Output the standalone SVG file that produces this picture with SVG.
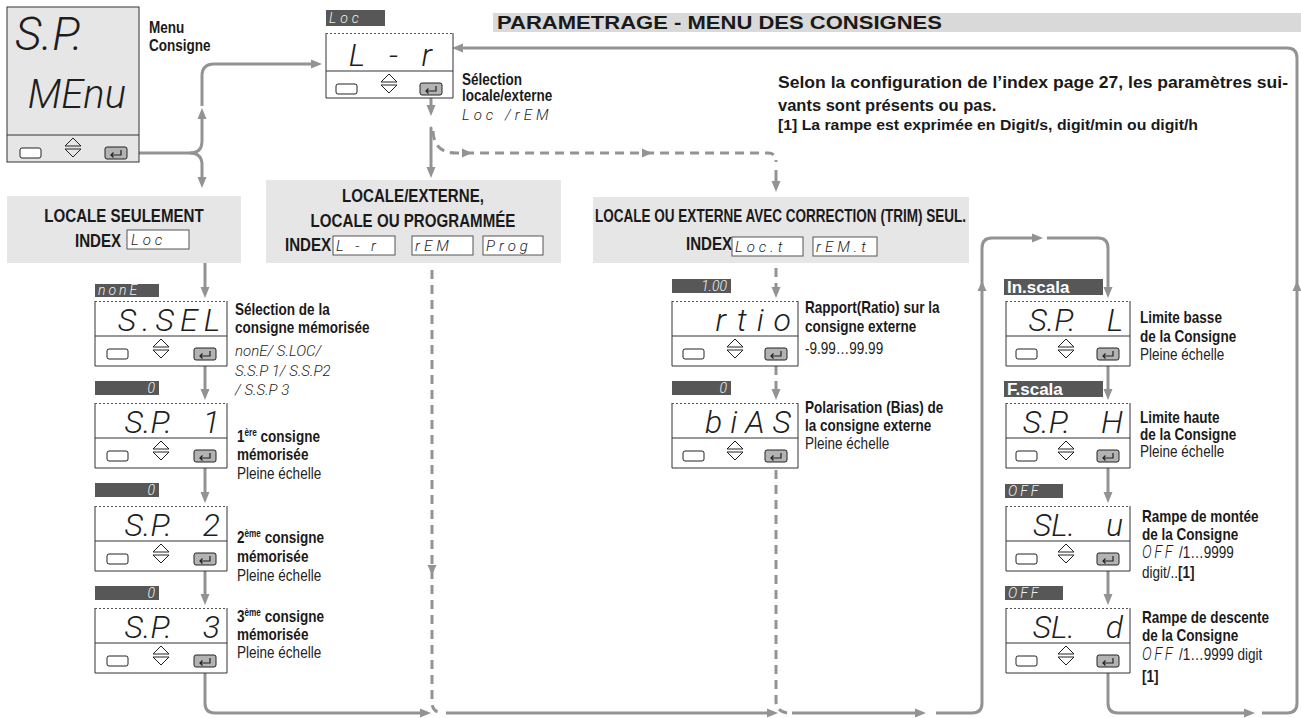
<svg xmlns="http://www.w3.org/2000/svg" width="1301" height="718" viewBox="0 0 1301 718">
<defs>
<style>
.lb{font-family:"Liberation Sans",Arial,sans-serif;font-weight:bold;font-size:16.5px;fill:#1a1a1a}
.lr{font-family:"Liberation Sans",Arial,sans-serif;font-weight:normal;font-size:16.5px;fill:#222}
.hb{font-family:"Liberation Sans",Arial,sans-serif;font-weight:bold;font-size:18px;fill:#1a1a1a}
.ab{font-family:"Liberation Sans",Arial,sans-serif;font-weight:bold;fill:#1a1a1a}
.seg{font-family:Roboto,Lato,Inter,"DejaVu Sans",sans-serif;font-weight:300;font-style:italic;fill:#1e1e1e;white-space:pre}
.bseg{font-family:Roboto,Lato,Inter,"DejaVu Sans",sans-serif;font-weight:300;font-style:italic;fill:#f2f2f2;font-size:14px;white-space:pre}
.badge{fill:#575757}
.pan{fill:#fff}
.edge{fill:none;stroke:#333;stroke-width:1}
.dot{stroke:#555;stroke-width:1;stroke-dasharray:2 2}
.ibox{fill:#fff;stroke:#555;stroke-width:1}
.gbox{fill:#e6e6e6}
.con{fill:none;stroke:#939393;stroke-width:3}
.dash{fill:none;stroke:#939393;stroke-width:3;stroke-dasharray:9 6}
</style>
<marker id="arr" markerUnits="userSpaceOnUse" markerWidth="11" markerHeight="10" refX="1" refY="5" orient="auto" viewBox="0 0 11 10"><path d="M0,0.5 L11,5 L0,9.5 Z" fill="#939393"/></marker>
<path id="ah" d="M-10,-4.5 L0,0 L-10,4.5 Z" fill="#939393"/>
<g id="kl"><rect x="0" y="0" width="21" height="10" rx="2" fill="#fff" stroke="#222" stroke-width="1"/></g>
<g id="kt" fill="none" stroke="#222" stroke-width="1"><path d="M-8,11 L0,3 L8,11 Z"/><path d="M-8,14 L0,22 L8,14 Z"/></g>
<g id="ke"><rect x="0" y="0" width="22" height="12" rx="2" fill="#b3b3b3" stroke="#222" stroke-width="1"/><path d="M16,3 V8 H6 M8.5,5.5 L6,8 L8.5,10.5" fill="none" stroke="#222" stroke-width="1.2"/></g>
</defs>

<rect width="1301" height="718" fill="#fff"/>

<g id="header">
<rect x="493" y="13" width="808" height="19" fill="#d9d9d9"/>
<text class="ab" x="497" y="29" font-size="19" textLength="445" lengthAdjust="spacingAndGlyphs">PARAMETRAGE - MENU DES CONSIGNES</text>
</g>

<g id="note">
<text class="ab" x="778" y="88" font-size="16.5" textLength="510" lengthAdjust="spacingAndGlyphs">Selon la configuration de l’index page 27, les paramètres sui-</text>
<text class="ab" x="778" y="111" font-size="16.5">vants sont présents ou pas.</text>
<text class="ab" x="778" y="130" font-size="14" textLength="420" lengthAdjust="spacingAndGlyphs">[1] La rampe est exprimée en Digit/s, digit/min ou digit/h</text>
</g>

<g id="connectors">
<path class="con" d="M128,153 H190 Q202,153 202,141 V118" marker-end="url(#arr)"/>
<path class="con" d="M202,106 V76 Q202,64 214,64 H312" marker-end="url(#arr)"/>
<path class="con" d="M190,153 Q202,153 202,165 V178" marker-end="url(#arr)"/>
<path class="con" d="M431,98 V106" marker-end="url(#arr)"/>
<path class="con" d="M431,128 V168" stroke-linecap="round" marker-end="url(#arr)"/>
<path class="dash" d="M433,131 Q434,153 456,153 H768 Q776,153 776,162"/>
<use href="#ah" transform="translate(472,153)"/>
<use href="#ah" transform="translate(652,153)"/>
<path class="con" d="M776,170 V182" marker-end="url(#arr)"/>
<path class="con" d="M205,263 V288" marker-end="url(#arr)"/>
<path class="con" d="M205,366 V390" marker-end="url(#arr)"/>
<path class="con" d="M205,468 V493" marker-end="url(#arr)"/>
<path class="con" d="M205,571 V595" marker-end="url(#arr)"/>
<path class="con" d="M205,673 V703 Q205,713 215,713 H421" marker-end="url(#arr)"/>
<path class="dash" d="M432,270 V702 Q432,712 442,713"/>
<use href="#ah" transform="translate(432,575) rotate(90)"/>
<path class="con" d="M446,713 H768" marker-end="url(#arr)"/>
<path class="dash" d="M776,268 V288" marker-end="url(#arr)"/>
<path class="dash" d="M776,366 V390" marker-end="url(#arr)"/>
<path class="dash" d="M776,470 V702 Q777,712 788,713"/>
<path class="con" d="M792,713 H916" marker-end="url(#arr)"/>
<path class="con" d="M936,713 H972 Q982,713 982,703 V248 Q982,238 992,238 H1033" marker-end="url(#arr)"/>
<use href="#ah" transform="translate(982,281) rotate(-90)"/>
<path class="con" d="M1047,238 H1098 Q1108,238 1108,248 V288" marker-end="url(#arr)"/>
<path class="con" d="M1108,366 V390" marker-end="url(#arr)"/>
<path class="con" d="M1108,468 V493" marker-end="url(#arr)"/>
<path class="con" d="M1108,571 V595" marker-end="url(#arr)"/>
<path class="con" d="M1108,673 V703 Q1108,713 1118,713 H1245" marker-end="url(#arr)"/>
<path class="con" d="M1262,713 H1287 Q1297,713 1297,703 V58 Q1297,48 1287,48 H462" marker-end="url(#arr)"/>
<use href="#ah" transform="translate(1297,281) rotate(-90)"/>
</g>

<g id="menu">
<rect class="gbox" x="7" y="7" width="132" height="155"/>
<rect class="edge" x="7" y="7" width="132" height="155"/>
<line x1="7" y1="135" x2="139" y2="135" stroke="#333"/>
<text class="seg" x="15" y="50" font-size="46">S.P.</text>
<text class="seg" x="126" y="108" font-size="40" text-anchor="end">MEnu</text>
<use href="#kl" x="20" y="148"/><use href="#kt" x="73" y="135"/><use href="#ke" x="105" y="147"/>
<text class="lb" x="149" y="33" font-size="18" transform="matrix(.82 0 0 1 26.82 0)">Menu</text>
<text class="lb" x="149" y="51" font-size="18" transform="matrix(.82 0 0 1 26.82 0)">Consigne</text>
</g>

<g id="lr">
<rect class="badge" x="326" y="10" width="59" height="16"/>
<text class="bseg" x="329" y="23" letter-spacing="4">Loc</text>
<rect class="pan" x="326" y="33" width="127" height="65"/>
<path class="edge" d="M326,33 V98 H453 V33"/>
<line class="dot" x1="326" y1="33.5" x2="453" y2="33.5"/>
<line x1="326" y1="71" x2="453" y2="71" stroke="#333"/>
<text class="seg" x="440" y="66" font-size="32" text-anchor="end" letter-spacing="8">L - r</text>
<use href="#kl" x="336" y="84"/><use href="#kt" x="389" y="71"/><use href="#ke" x="420" y="83"/>
<text class="lb" x="462" y="85" transform="matrix(.82 0 0 1 83.16 0)">Sélection</text>
<text class="lb" x="462" y="101" transform="matrix(.82 0 0 1 83.16 0)">locale/externe</text>
<text class="seg" x="462" y="120" font-size="15" letter-spacing="4">Loc /rEM</text>
</g>

<g id="locale-seulement">
<rect class="gbox" x="7" y="196" width="234" height="67"/>
<text class="hb" x="124" y="222" text-anchor="middle" transform="matrix(.84 0 0 1 19.84 0)">LOCALE SEULEMENT</text>
<text class="hb" x="75" y="247" transform="matrix(.84 0 0 1 12 0)">INDEX</text>
<rect class="ibox" x="127" y="230" width="62" height="19"/>
<text class="seg" x="131" y="245" font-size="15" letter-spacing="4">Loc</text>
</g>

<g id="locale-externe">
<rect class="gbox" x="266" y="180" width="295" height="83"/>
<text class="hb" x="413" y="202" text-anchor="middle" transform="matrix(.84 0 0 1 66.08 0)">LOCALE/EXTERNE,</text>
<text class="hb" x="413" y="227" text-anchor="middle" transform="matrix(.84 0 0 1 66.08 0)">LOCALE OU PROGRAMMÉE</text>
<text class="hb" x="285" y="251" transform="matrix(.84 0 0 1 45.6 0)">INDEX</text>
<rect class="ibox" x="333" y="236" width="62" height="19"/>
<text class="seg" x="336" y="251" font-size="15" letter-spacing="4">L - r</text>
<rect class="ibox" x="412" y="236" width="61" height="19"/>
<text class="seg" x="415" y="251" font-size="15" letter-spacing="4">rEM</text>
<rect class="ibox" x="483" y="236" width="60" height="19"/>
<text class="seg" x="486" y="251" font-size="15" letter-spacing="4">Prog</text>
</g>

<g id="locale-trim">
<rect class="gbox" x="593" y="197" width="376" height="66"/>
<text class="hb" x="595" y="222" textLength="371" lengthAdjust="spacingAndGlyphs">LOCALE OU EXTERNE AVEC CORRECTION (TRIM) SEUL.</text>
<text class="hb" x="686" y="250" transform="matrix(.84 0 0 1 109.76 0)">INDEX</text>
<rect class="ibox" x="732" y="237" width="71" height="19"/>
<text class="seg" x="735" y="252" font-size="15" letter-spacing="4">Loc.t</text>
<rect class="ibox" x="813" y="237" width="64" height="19"/>
<text class="seg" x="816" y="252" font-size="15" letter-spacing="4">rEM.t</text>
</g>

<g id="ssel">
<rect class="badge" x="95" y="284" width="64" height="13"/>
<text class="bseg" x="98" y="295" letter-spacing="3">nonE</text>
<rect class="pan" x="95" y="301" width="132" height="65"/>
<path class="edge" d="M95,301 V366 H227 V301"/>
<line class="dot" x1="95" y1="301.5" x2="227" y2="301.5"/>
<line x1="95" y1="336" x2="227" y2="336" stroke="#333"/>
<text class="seg" x="226" y="331" font-size="32" text-anchor="end" letter-spacing="6">S.SEL</text>
<use href="#kl" x="107" y="349"/><use href="#kt" x="161" y="336"/><use href="#ke" x="194" y="348"/>
<text class="lb" x="235" y="315" transform="matrix(.82 0 0 1 42.3 0)">Sélection de la</text>
<text class="lb" x="235" y="333" transform="matrix(.82 0 0 1 42.3 0)">consigne mémorisée</text>
<text class="seg" x="235" y="356" font-size="15">nonE/ S.LOC/</text>
<text class="seg" x="235" y="376" font-size="15">S.S.P 1/ S.S.P2</text>
<text class="seg" x="235" y="395" font-size="15">/ S.S.P 3</text>
</g>

<g id="sp1">
<rect class="badge" x="95" y="381" width="64" height="14"/>
<text class="bseg" x="155" y="393" text-anchor="end">0</text>
<rect class="pan" x="95" y="403" width="132" height="65"/>
<path class="edge" d="M95,403 V468 H227 V403"/>
<line class="dot" x1="95" y1="403.5" x2="227" y2="403.5"/>
<line x1="95" y1="438" x2="227" y2="438" stroke="#333"/>
<text class="seg" x="220" y="433" font-size="32" text-anchor="end">S.P.    1</text>
<use href="#kl" x="107" y="451"/><use href="#kt" x="161" y="438"/><use href="#ke" x="194" y="450"/>
<text class="lb" x="237" y="442" transform="matrix(.82 0 0 1 42.66 0)">1<tspan font-size="10" dy="-6">ère</tspan><tspan dy="6"> consigne</tspan></text>
<text class="lb" x="237" y="460" transform="matrix(.82 0 0 1 42.66 0)">mémorisée</text>
<text class="lr" x="237" y="479" transform="matrix(.82 0 0 1 42.66 0)">Pleine échelle</text>
</g>

<g id="sp2">
<rect class="badge" x="95" y="483" width="64" height="14"/>
<text class="bseg" x="155" y="495" text-anchor="end">0</text>
<rect class="pan" x="95" y="506" width="132" height="65"/>
<path class="edge" d="M95,506 V571 H227 V506"/>
<line class="dot" x1="95" y1="506.5" x2="227" y2="506.5"/>
<line x1="95" y1="541" x2="227" y2="541" stroke="#333"/>
<text class="seg" x="220" y="536" font-size="32" text-anchor="end">S.P.    2</text>
<use href="#kl" x="107" y="554"/><use href="#kt" x="161" y="541"/><use href="#ke" x="194" y="553"/>
<text class="lb" x="237" y="543" transform="matrix(.82 0 0 1 42.66 0)">2<tspan font-size="10" dy="-6">ème</tspan><tspan dy="6"> consigne</tspan></text>
<text class="lb" x="237" y="562" transform="matrix(.82 0 0 1 42.66 0)">mémorisée</text>
<text class="lr" x="237" y="581" transform="matrix(.82 0 0 1 42.66 0)">Pleine échelle</text>
</g>

<g id="sp3">
<rect class="badge" x="95" y="586" width="64" height="14"/>
<text class="bseg" x="155" y="598" text-anchor="end">0</text>
<rect class="pan" x="95" y="608" width="132" height="65"/>
<path class="edge" d="M95,608 V673 H227 V608"/>
<line class="dot" x1="95" y1="608.5" x2="227" y2="608.5"/>
<line x1="95" y1="643" x2="227" y2="643" stroke="#333"/>
<text class="seg" x="220" y="638" font-size="32" text-anchor="end">S.P.    3</text>
<use href="#kl" x="107" y="656"/><use href="#kt" x="161" y="643"/><use href="#ke" x="194" y="655"/>
<text class="lb" x="237" y="622" transform="matrix(.82 0 0 1 42.66 0)">3<tspan font-size="10" dy="-6">ème</tspan><tspan dy="6"> consigne</tspan></text>
<text class="lb" x="237" y="640" transform="matrix(.82 0 0 1 42.66 0)">mémorisée</text>
<text class="lr" x="237" y="658" transform="matrix(.82 0 0 1 42.66 0)">Pleine échelle</text>
</g>

<g id="rtio">
<rect class="badge" x="672" y="279" width="59" height="14"/>
<text class="bseg" x="727" y="291" text-anchor="end">1.00</text>
<rect class="pan" x="672" y="301" width="126" height="65"/>
<path class="edge" d="M672,301 V366 H798 V301"/>
<line class="dot" x1="672" y1="301.5" x2="798" y2="301.5"/>
<line x1="672" y1="336" x2="798" y2="336" stroke="#333"/>
<text class="seg" x="801" y="331" font-size="32" text-anchor="end" letter-spacing="10">rtio</text>
<use href="#kl" x="683" y="349"/><use href="#kt" x="735" y="336"/><use href="#ke" x="765" y="348"/>
<text class="lb" x="805" y="313" transform="matrix(.82 0 0 1 144.9 0)">Rapport(Ratio) sur la</text>
<text class="lb" x="805" y="332" transform="matrix(.82 0 0 1 144.9 0)">consigne externe</text>
<text class="lr" x="805" y="354" transform="matrix(.82 0 0 1 144.9 0)">-9.99…99.99</text>
</g>

<g id="bias">
<rect class="badge" x="672" y="381" width="59" height="14"/>
<text class="bseg" x="727" y="393" text-anchor="end">0</text>
<rect class="pan" x="672" y="403" width="126" height="65"/>
<path class="edge" d="M672,403 V468 H798 V403"/>
<line class="dot" x1="672" y1="403.5" x2="798" y2="403.5"/>
<line x1="672" y1="438" x2="798" y2="438" stroke="#333"/>
<text class="seg" x="799" y="433" font-size="32" text-anchor="end" letter-spacing="8">biAS</text>
<use href="#kl" x="683" y="451"/><use href="#kt" x="735" y="438"/><use href="#ke" x="765" y="450"/>
<text class="lb" x="805" y="413" transform="matrix(.82 0 0 1 144.9 0)">Polarisation (Bias) de</text>
<text class="lb" x="805" y="431" transform="matrix(.82 0 0 1 144.9 0)">la consigne externe</text>
<text class="lr" x="805" y="449" transform="matrix(.82 0 0 1 144.9 0)">Pleine échelle</text>
</g>

<g id="spl">
<rect class="badge" x="1004" y="279" width="99" height="16"/>
<text class="ab" x="1007" y="293" font-size="17" style="fill:#fff">In.scala</text>
<rect class="pan" x="1006" y="301" width="124" height="65"/>
<path class="edge" d="M1006,301 V366 H1130 V301"/>
<line class="dot" x1="1006" y1="301.5" x2="1130" y2="301.5"/>
<line x1="1006" y1="336" x2="1130" y2="336" stroke="#333"/>
<text class="seg" x="1123" y="331" font-size="32" text-anchor="end">S.P.    L</text>
<use href="#kl" x="1016" y="349"/><use href="#kt" x="1066" y="336"/><use href="#ke" x="1097" y="348"/>
<text class="lb" x="1140" y="323" transform="matrix(.82 0 0 1 205.2 0)">Limite basse</text>
<text class="lb" x="1140" y="342" transform="matrix(.82 0 0 1 205.2 0)">de la Consigne</text>
<text class="lr" x="1140" y="360" transform="matrix(.82 0 0 1 205.2 0)">Pleine échelle</text>
</g>

<g id="sph">
<rect class="badge" x="1004" y="381" width="99" height="16"/>
<text class="ab" x="1007" y="395" font-size="17" style="fill:#fff">F.scala</text>
<rect class="pan" x="1006" y="403" width="124" height="65"/>
<path class="edge" d="M1006,403 V468 H1130 V403"/>
<line class="dot" x1="1006" y1="403.5" x2="1130" y2="403.5"/>
<line x1="1006" y1="438" x2="1130" y2="438" stroke="#333"/>
<text class="seg" x="1123" y="433" font-size="32" text-anchor="end">S.P.    H</text>
<use href="#kl" x="1016" y="451"/><use href="#kt" x="1066" y="438"/><use href="#ke" x="1097" y="450"/>
<text class="lb" x="1140" y="423" transform="matrix(.82 0 0 1 205.2 0)">Limite haute</text>
<text class="lb" x="1140" y="440" transform="matrix(.82 0 0 1 205.2 0)">de la Consigne</text>
<text class="lr" x="1140" y="457" transform="matrix(.82 0 0 1 205.2 0)">Pleine échelle</text>
</g>

<g id="slu">
<rect class="badge" x="1005" y="484" width="58" height="14"/>
<text class="bseg" x="1008" y="496" letter-spacing="3">OFF</text>
<rect class="pan" x="1006" y="506" width="124" height="65"/>
<path class="edge" d="M1006,506 V571 H1130 V506"/>
<line class="dot" x1="1006" y1="506.5" x2="1130" y2="506.5"/>
<line x1="1006" y1="541" x2="1130" y2="541" stroke="#333"/>
<text class="seg" x="1123" y="536" font-size="32" text-anchor="end">SL.    u</text>
<use href="#kl" x="1016" y="554"/><use href="#kt" x="1066" y="541"/><use href="#ke" x="1097" y="553"/>
<text class="lb" x="1142" y="522" transform="matrix(.82 0 0 1 205.56 0)">Rampe de montée</text>
<text class="lb" x="1142" y="540" transform="matrix(.82 0 0 1 205.56 0)">de la Consigne</text>
<text class="lr" x="1142" y="558" transform="matrix(.82 0 0 1 205.56 0)"><tspan class="seg" font-size="18" letter-spacing="3">OFF</tspan> /1…9999</text>
<text class="lr" x="1142" y="578" transform="matrix(.82 0 0 1 205.56 0)">digit/..<tspan font-weight="bold">[1]</tspan></text>
</g>

<g id="sld">
<rect class="badge" x="1005" y="586" width="58" height="14"/>
<text class="bseg" x="1008" y="598" letter-spacing="3">OFF</text>
<rect class="pan" x="1006" y="608" width="124" height="65"/>
<path class="edge" d="M1006,608 V673 H1130 V608"/>
<line class="dot" x1="1006" y1="608.5" x2="1130" y2="608.5"/>
<line x1="1006" y1="643" x2="1130" y2="643" stroke="#333"/>
<text class="seg" x="1123" y="638" font-size="32" text-anchor="end">SL.    d</text>
<use href="#kl" x="1016" y="656"/><use href="#kt" x="1066" y="643"/><use href="#ke" x="1097" y="655"/>
<text class="lb" x="1142" y="623" transform="matrix(.82 0 0 1 205.56 0)">Rampe de descente</text>
<text class="lb" x="1142" y="641" transform="matrix(.82 0 0 1 205.56 0)">de la Consigne</text>
<text class="lr" x="1142" y="660" transform="matrix(.82 0 0 1 205.56 0)"><tspan class="seg" font-size="18" letter-spacing="3">OFF</tspan> /1…9999  digit</text>
<text class="lb" x="1142" y="682" transform="matrix(.82 0 0 1 205.56 0)">[1]</text>
</g>
</svg>
